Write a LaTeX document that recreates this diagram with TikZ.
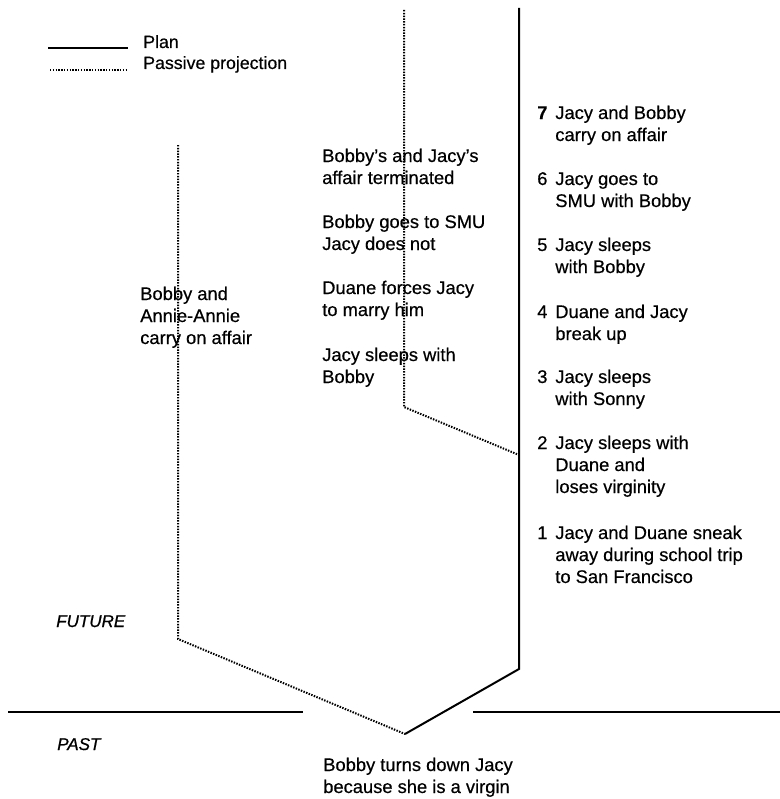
\documentclass[tikz,border=0pt]{standalone}
\usepackage{fontspec}
\setmainfont{Liberation Sans}[FakeBold=0.5]
\newfontfamily\lblfont{Liberation Sans}[FakeBold=0.9]
\newcommand{\blk}[1]{\begin{tabular}[t]{@{}l@{}}#1\end{tabular}}
\newcommand{\numblk}[1]{\begin{tabular}[t]{@{}l@{\hspace{5.9pt}}l@{}}#1\end{tabular}}
\begin{document}
\begin{tikzpicture}[x=0.75pt,y=-0.75pt,
  plan/.style={line width=1.5pt, line join=miter},
  proj/.style={line width=1.5pt, dash pattern=on 1.1pt off 1pt},
  txt/.style={anchor=base west, inner sep=0pt, font=\fontsize{13.75}{16.5}\selectfont},
  lbl/.style={anchor=base west, inner sep=0pt, font=\lblfont\fontsize{12.75}{15}\selectfont\itshape},
  leg/.style={anchor=base west, inner sep=0pt, font=\fontsize{13.3}{16}\selectfont}]
\useasboundingbox (0,0) rectangle (780,799);

% legend
\coordinate (legA1) at (48,48);
\coordinate (legA2) at (128,48);
\coordinate (legB1) at (50,70);
\coordinate (legB2) at (126,70);
\node[leg] (plan) at (143,48) {Plan};
\node[leg] (passive) at (143,69) {Passive projection};
\draw[plan] (legA1) -- (legA2);
\draw[proj] (legB1) -- (legB2);

% main lines
\coordinate (mtop) at (404,10);
\coordinate (mbend) at (404,407);
\coordinate (mjoin) at (519,455);
\coordinate (stop) at (519,8);
\coordinate (sbend) at (519,669);
\coordinate (root) at (405,734);
\coordinate (ltop) at (178,145);
\coordinate (lbend) at (178,639);
\coordinate (hl1) at (8,712);
\coordinate (hl2) at (303,712);
\coordinate (hr1) at (473,712);
\coordinate (hr2) at (780,712);

\draw[proj] (mtop) -- (mbend) -- (mjoin);
\draw[plan] (stop) -- (sbend) -- (root);
\draw[proj] (ltop) -- (lbend) -- (root);
\draw[plan] (hl1) -- (hl2);
\draw[plan] (hr1) -- (hr2);

% middle column
\node[txt] (m1) at (322,162) {\blk{Bobby's and Jacy's\\affair terminated}};
\node[txt] (m2) at (322,228) {\blk{Bobby goes to SMU\\Jacy does not}};
\node[txt] (m3) at (322,294) {\blk{Duane forces Jacy\\to marry him}};
\node[txt] (m4) at (322,361) {\blk{Jacy sleeps with\\Bobby}};

% left column
\node[txt] (l1) at (140,300) {\blk{Bobby and\\Annie-Annie\\carry on affair}};

% right column
\node[txt] (r7) at (537,119) {\numblk{\textbf{7} & Jacy and Bobby\\ & carry on affair}};
\node[txt] (r6) at (537,185) {\numblk{6 & Jacy goes to\\ & SMU with Bobby}};
\node[txt] (r5) at (537,251) {\numblk{5 & Jacy sleeps\\ & with Bobby}};
\node[txt] (r4) at (537,318) {\numblk{4 & Duane and Jacy\\ & break up}};
\node[txt] (r3) at (537,383) {\numblk{3 & Jacy sleeps\\ & with Sonny}};
\node[txt] (r2) at (537,449) {\numblk{2 & Jacy sleeps with\\ & Duane and\\ & loses virginity}};
\node[txt] (r1) at (537,539) {\numblk{1 & Jacy and Duane sneak\\ & away during school trip\\ & to San Francisco}};

% labels
\node[lbl] (future) at (56,627) {FUTURE};
\node[lbl] (past) at (57,750) {PAST};
\node[txt] (b1) at (323,771) {\blk{Bobby turns down Jacy\\because she is a virgin}};
\end{tikzpicture}
\end{document}
